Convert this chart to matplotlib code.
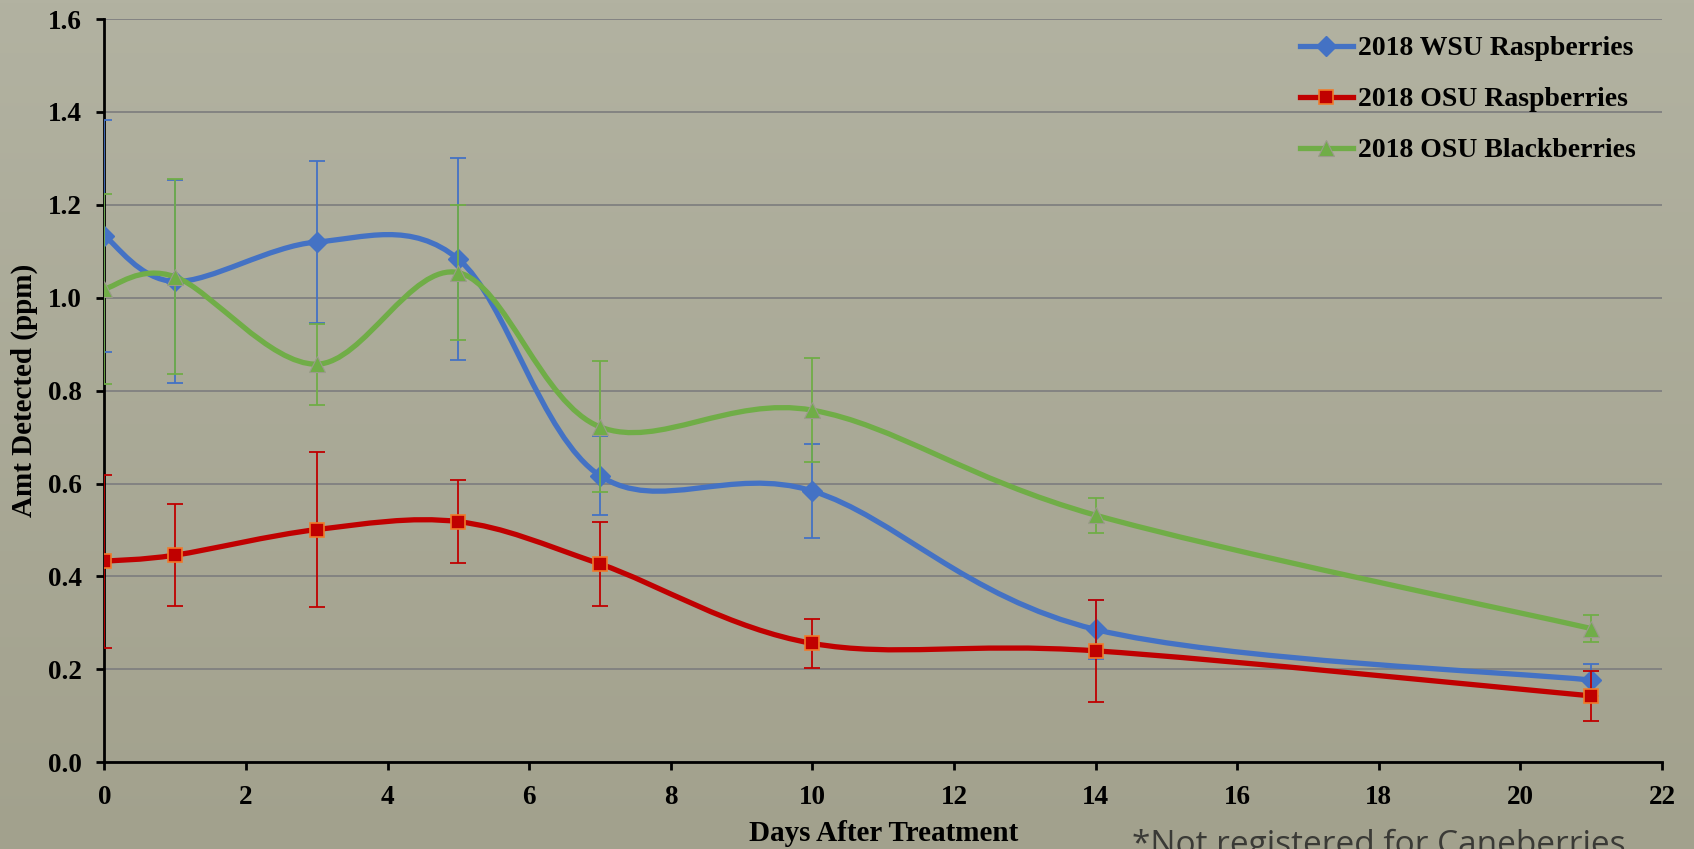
"""
Residue decline in caneberries: amount detected vs. days after treatment.
"""
import numpy as np
import matplotlib.pyplot as plt
from matplotlib.path import Path
from matplotlib.patches import PathPatch
from matplotlib.lines import Line2D

# Data
days = [0, 1, 3, 5, 7, 10, 14, 21]

wsu_rasp = [1.133, 1.035, 1.120, 1.083, 0.617, 0.584, 0.286, 0.177]
wsu_rasp_err = [0.250, 0.218, 0.175, 0.218, 0.085, 0.102, 0.064, 0.035]

osu_rasp = [0.433, 0.446, 0.501, 0.518, 0.427, 0.256, 0.240, 0.143]
osu_rasp_err = [0.186, 0.110, 0.167, 0.090, 0.090, 0.053, 0.110, 0.053]

osu_black = [1.019, 1.045, 0.857, 1.054, 0.722, 0.758, 0.532, 0.288]
osu_black_err = [0.205, 0.210, 0.087, 0.146, 0.141, 0.112, 0.038, 0.029]

labels = ["2018 WSU Raspberries", "2018 OSU Raspberries", "2018 OSU Blackberries"]

x_ticks = np.arange(0, 23, 2)
y_ticks = [0.0, 0.2, 0.4, 0.6, 0.8, 1.0, 1.2, 1.4, 1.6]

# Styles
blue = "#4472C4"
red = "#C00000"
green = "#70AD47"
serif = "Liberation Serif"


def smooth_path(xs, ys):
    """Bezier path through the points (spreadsheet-style smoothed line)."""
    pts = np.column_stack([xs, ys]).astype(float)
    n = len(pts)
    verts = [pts[0]]
    codes = [Path.MOVETO]
    for i in range(n - 1):
        p0 = pts[max(i - 1, 0)]
        p1 = pts[i]
        p2 = pts[i + 1]
        p3 = pts[min(i + 2, n - 1)]
        verts += [p1 + (p2 - p0) / 6, p2 - (p3 - p1) / 6, p2]
        codes += [Path.CURVE4] * 3
    return Path(verts, codes)


fig = plt.figure(figsize=(16.94, 8.49), dpi=100)

# Background wash
bg = fig.add_axes([0, 0, 1, 1], zorder=-5)
top_c = np.array([178, 178, 161]) / 255
bot_c = np.array([162, 161, 141]) / 255
t = np.linspace(0, 1, 256)[:, None, None]
grad = top_c * (1 - t) + bot_c * t
bg.imshow(np.repeat(grad, 4, axis=1), aspect="auto", extent=[0, 1, 0, 1])
bg.axis("off")

ax = fig.add_axes([0.0616, 0.1021, 0.9195, 0.8755])
ax.patch.set_alpha(0)

series = [
    (wsu_rasp, wsu_rasp_err, blue, "D", 10, blue, 1),
    (osu_rasp, osu_rasp_err, red, "s", 9.5, "#F07A2A", 1.2),
    (osu_black, osu_black_err, green, "^", 11, "#9A9A8A", 0.8),
]

handles = []
for k, (vals, err, col, mk, ms, mec, mew) in enumerate(series):
    z = 3 + k
    ax.errorbar(days, vals, yerr=err, fmt="none", ecolor=col, elinewidth=1.3,
                capsize=6, capthick=1.3, zorder=z)
    ax.add_patch(PathPatch(smooth_path(days, vals), fill=False, edgecolor=col,
                           lw=3.8, capstyle="round", zorder=z))
    ax.plot(days, vals, ls="none", marker=mk, ms=ms, color=col, mec=mec,
            mew=mew, zorder=z + 0.5)
    handles.append(Line2D([], [], color=col, lw=3.8, marker=mk, ms=ms,
                          mec=mec, mew=mew))

ax.set_xlim(0, 22)
ax.set_ylim(0, 1.6)
ax.set_xticks(x_ticks)
ax.set_yticks(y_ticks)
ax.set_yticklabels([f"{v:.1f}" for v in y_ticks])

ax.grid(axis="y", color="#808080", lw=1.3, zorder=0)
ax.set_axisbelow(True)
for s in ["top", "right"]:
    ax.spines[s].set_visible(False)
for s in ["left", "bottom"]:
    ax.spines[s].set_linewidth(2)
    ax.spines[s].set_color("black")
    ax.spines[s].set_zorder(2)

ax.tick_params(axis="both", direction="out", length=6, width=2, color="black",
               pad=10)
for lbl in ax.get_xticklabels() + ax.get_yticklabels():
    lbl.set_fontfamily(serif)
    lbl.set_fontweight("bold")
    lbl.set_fontsize(19.5)

ax.set_xlabel("Days After Treatment", fontfamily=serif, fontweight="bold",
              fontsize=21)
ax.xaxis.set_label_coords(0.5, -0.077)
ax.set_ylabel("Amt Detected (ppm)", fontfamily=serif, fontweight="bold",
              fontsize=21)
ax.yaxis.set_label_coords(-0.0425, 0.5)

leg = ax.legend(handles, labels, loc="upper left",
                bbox_to_anchor=(1300 / 1694, 1 - 36 / 849),
                bbox_transform=fig.transFigure, frameon=False, numpoints=1,
                handlelength=1.9, handletextpad=0.2, labelspacing=0.92,
                borderpad=0, borderaxespad=0,
                prop={"family": serif, "weight": "bold", "size": 20})

# footnote runs off the bottom edge
fig.text(1132 / 1694, 1 - 829 / 849, "*Not registered for Caneberries",
         fontfamily="Open Sans", fontsize=24, color="#3a3a36", va="top",
         ha="left")

plt.savefig("out.png", dpi=100)
